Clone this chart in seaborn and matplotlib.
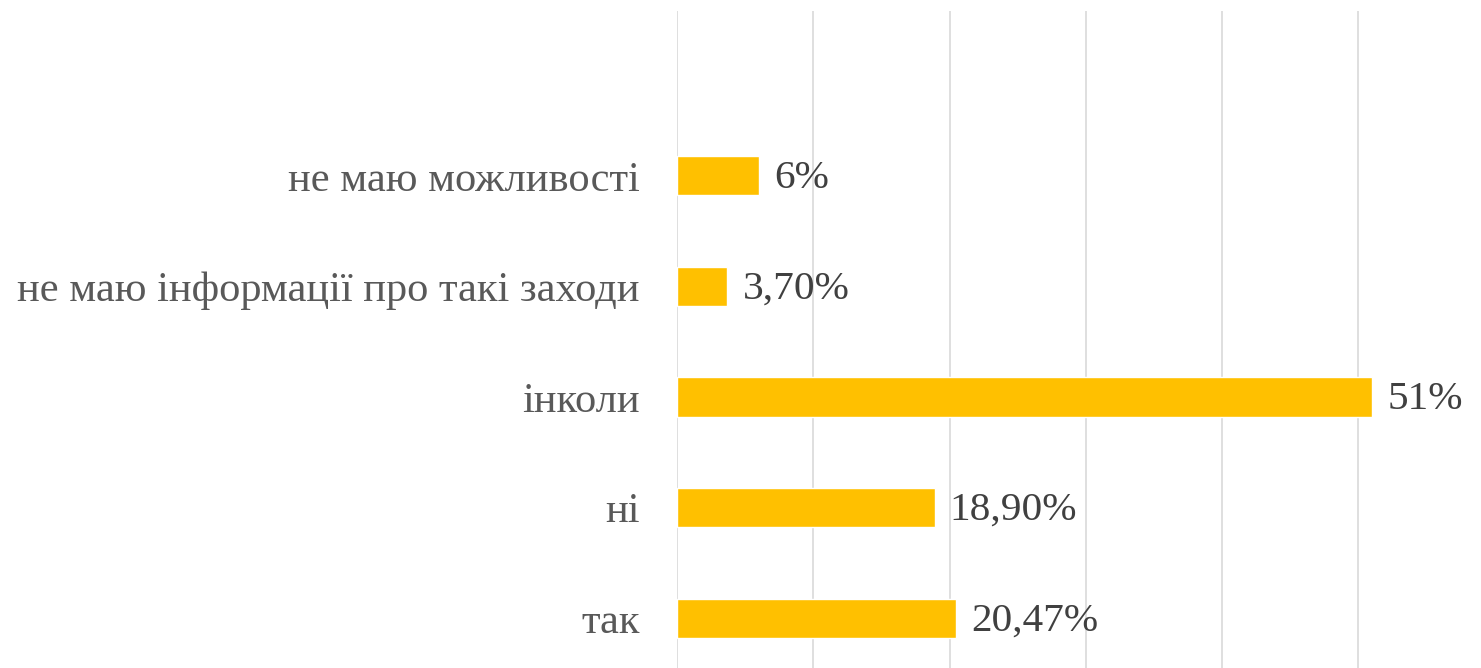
import matplotlib
matplotlib.use("Agg")
import matplotlib.pyplot as plt
import seaborn as sns
import pandas as pd

categories = ["не маю можливості", "не маю інформації про такі заходи", "інколи", "ні", "так"]
values = [0.06, 0.037, 0.51, 0.189, 0.2047]
value_labels = ["6%", "3,70%", "51%", "18,90%", "20,47%"]
grid_ticks = [0.0, 0.1, 0.2, 0.3, 0.4, 0.5]

df = pd.DataFrame({"category": categories, "value": values})

sns.set_theme(style="white")
plt.rcParams["font.family"] = ["Liberation Serif", "DejaVu Serif"]

fig = plt.figure(figsize=(14.81, 6.68), dpi=100)
ax = fig.add_axes([677 / 1481, 0.0, 1 - 677 / 1481, 1 - 11 / 668])

sns.barplot(data=df, x="value", y="category", order=categories, orient="h",
            color="#FFC000", saturation=1, width=0.353, ax=ax, zorder=3)

ax.set_xlim(0, 0.59)
ax.set_ylim(4.45, -1.49)
ax.set_xticks(grid_ticks)
ax.set_xticklabels([])
ax.tick_params(axis="x", length=0)
ax.tick_params(axis="y", length=0, pad=27, labelsize=30.6, labelcolor="#595959")
ax.grid(axis="x", color="#D9D9D9", linewidth=1.2, zorder=0)
ax.grid(axis="y", visible=False)
for s in ax.spines.values():
    s.set_visible(False)
ax.set_xlabel("")
ax.set_ylabel("")

for i, (v, lab) in enumerate(zip(values, value_labels)):
    ax.annotate(lab, xy=(v, i), xytext=(11, -2), textcoords="offset points",
                ha="left", va="center", fontsize=29.7, color="#404040")

fig.savefig("out.png", dpi=100)
